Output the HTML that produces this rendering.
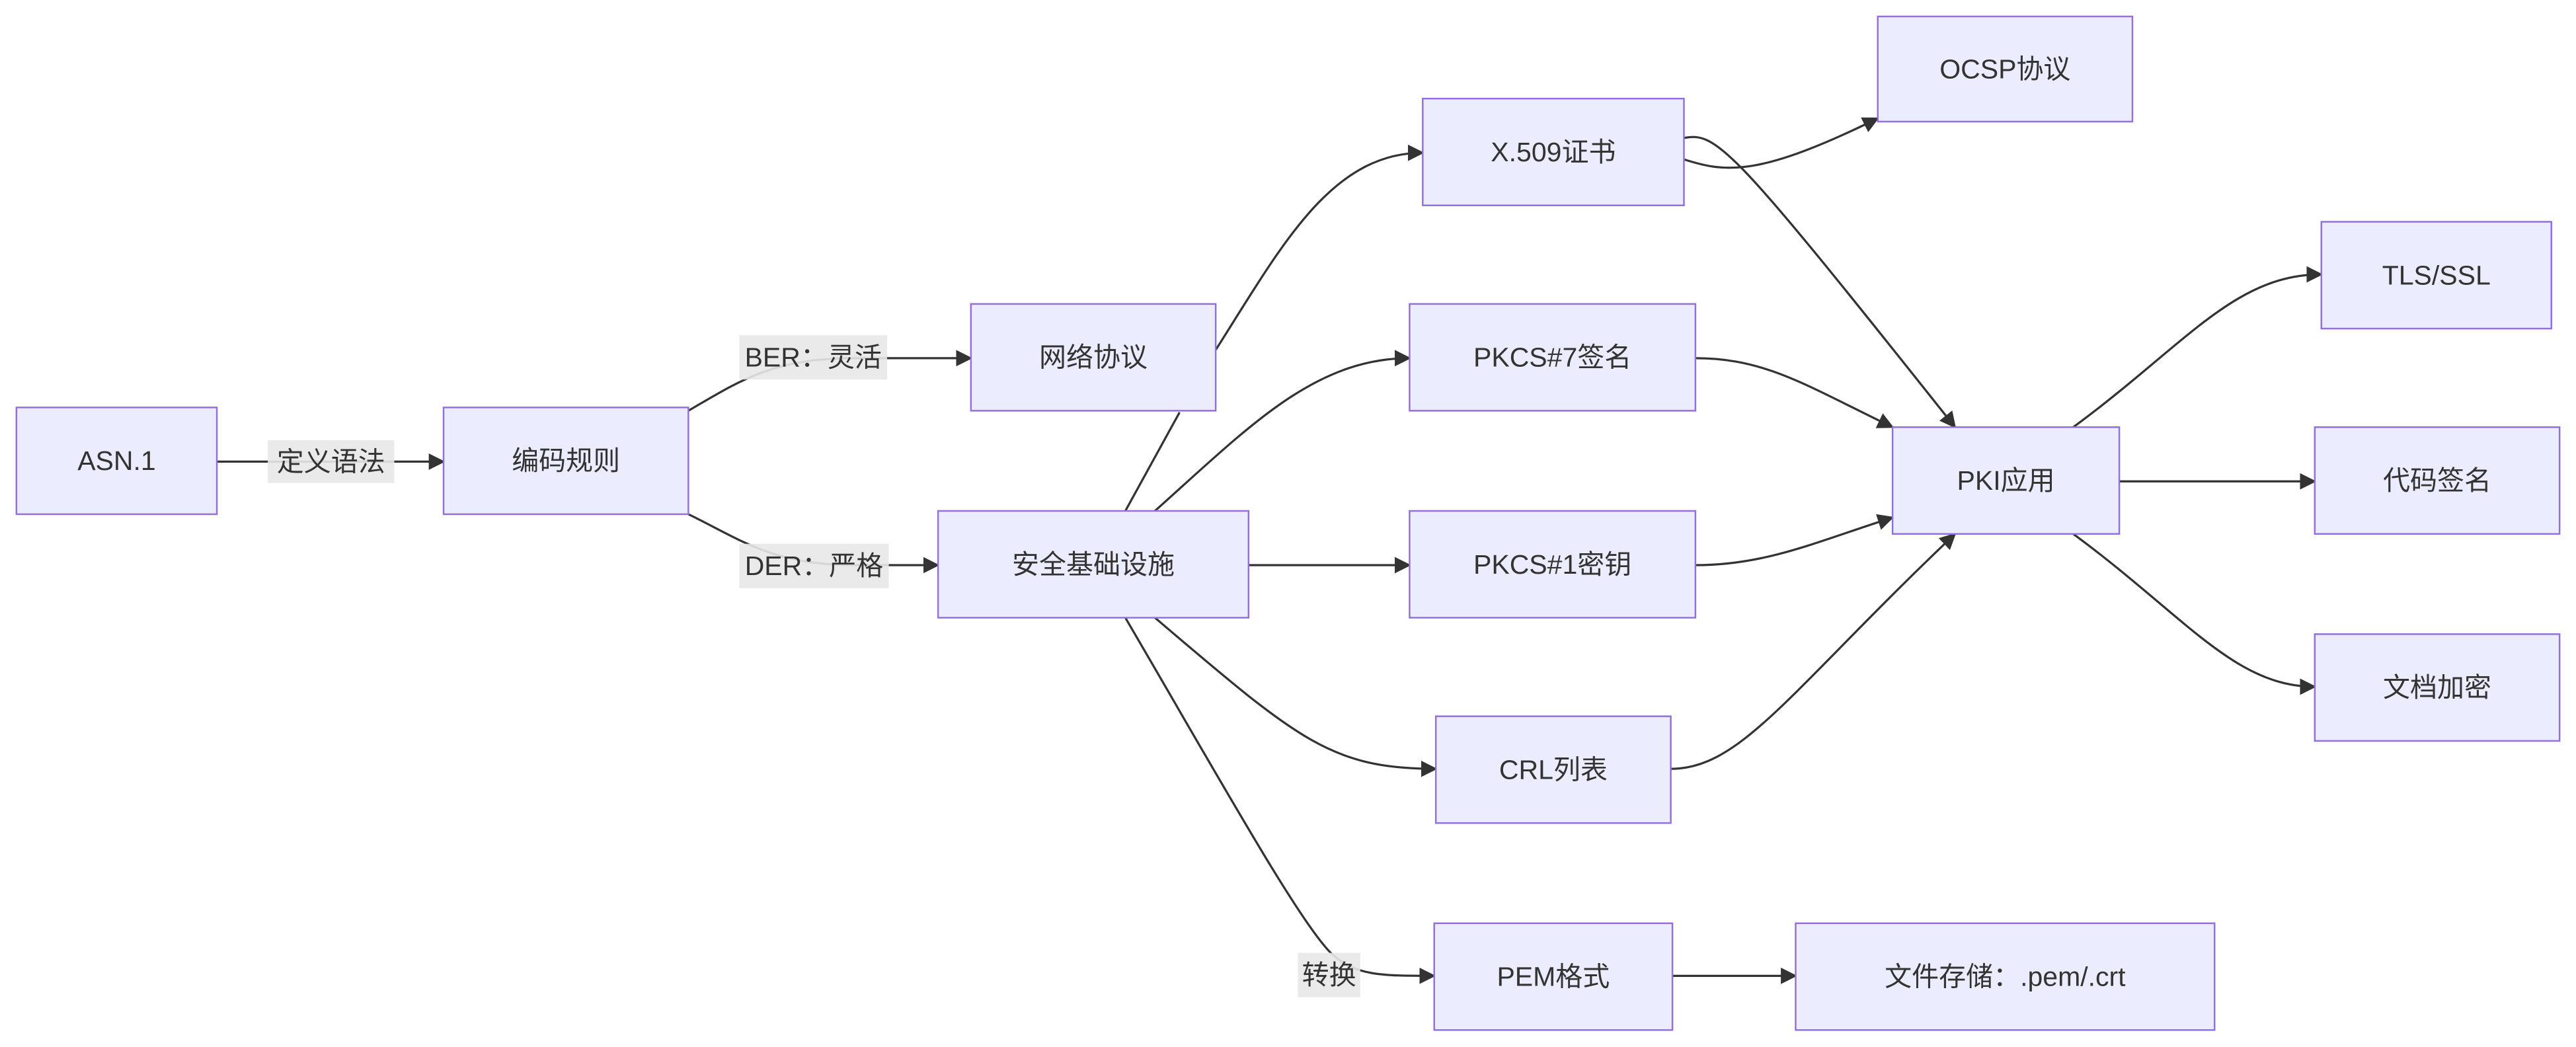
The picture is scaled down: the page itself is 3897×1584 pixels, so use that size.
<!DOCTYPE html>
<html><head><meta charset="utf-8"><style>
html,body{margin:0;padding:0;background:#fff;}
svg{display:block;}
text{font-family:"Liberation Sans","Noto Sans CJK SC",sans-serif;font-size:16.5px;fill:#333;text-anchor:middle;dominant-baseline:central;}
.n{fill:#ECECFF;stroke:#9370DB;stroke-width:1;}
.e{fill:none;stroke:#333;stroke-width:1.3;}
.lb{fill:#e8e8e8;opacity:0.9;}
</style></head><body>
<svg width="3897" height="1584" viewBox="0 0 1568 637.3">
<defs><marker id="a" viewBox="0 0 10 10" refX="9" refY="5" markerWidth="10" markerHeight="10" markerUnits="userSpaceOnUse" orient="auto"><path d="M0,0 L10,5 L0,10 z" fill="#333"/></marker></defs>
<g class="edges">
<path class="e" d="M132,281 L270,281" marker-end="url(#a)"/>
<path class="e" d="M419,250 C450,232 470,218 520,218 L591,218" marker-end="url(#a)"/>
<path class="e" d="M419,313 C450,328 470,344 520,344 L571,344" marker-end="url(#a)"/>
<path class="e" d="M740,213 C780,150 810,93 866,93" marker-end="url(#a)"/>
<path class="e" d="M685,311 L718,251"/>
<path class="e" d="M703,311 C760,260 800,218 858,218" marker-end="url(#a)"/>
<path class="e" d="M760,344 L858,344" marker-end="url(#a)"/>
<path class="e" d="M703,376 C790,450 810,468 874,468" marker-end="url(#a)"/>
<path class="e" d="M685,376 C740,470 790,560 810,580 C825,594 840,594 873,594" marker-end="url(#a)"/>
<path class="e" d="M1018,594 L1093,594" marker-end="url(#a)"/>
<path class="e" d="M1025,97 C1050,105 1070,108 1143,72" marker-end="url(#a)"/>
<path class="e" d="M1025,84 C1045,80 1055,90 1190,260" marker-end="url(#a)"/>
<path class="e" d="M1032,218 C1075,218 1100,235 1152,260" marker-end="url(#a)"/>
<path class="e" d="M1032,344 C1075,344 1105,330 1152,315" marker-end="url(#a)"/>
<path class="e" d="M1017,468 C1060,468 1090,420 1190,325" marker-end="url(#a)"/>
<path class="e" d="M1262,260 C1330,210 1360,167 1413,167" marker-end="url(#a)"/>
<path class="e" d="M1290,293 L1409,293" marker-end="url(#a)"/>
<path class="e" d="M1262,325 C1330,375 1360,418 1409,418" marker-end="url(#a)"/>
</g>
<g>
<rect class="lb" x="163" y="268" width="77" height="26"/><text x="201.5" y="281">定义语法</text>
<rect class="lb" x="450" y="204" width="90" height="27"/><text x="495" y="217.5">BER：灵活</text>
<rect class="lb" x="450" y="331" width="91" height="27"/><text x="495.5" y="344.5">DER：严格</text>
<rect class="lb" x="790" y="580" width="38" height="27"/><text x="809" y="593.5">转换</text>
</g>
<g>
<rect class="n" x="10" y="248" width="122" height="65"/><text x="71" y="280.5">ASN.1</text>
<rect class="n" x="270" y="248" width="149" height="65"/><text x="344.5" y="280.5">编码规则</text>
<rect class="n" x="591" y="185" width="149" height="65"/><text x="665.5" y="217.5">网络协议</text>
<rect class="n" x="571" y="311" width="189" height="65"/><text x="665.5" y="343.5">安全基础设施</text>
<rect class="n" x="866" y="60" width="159" height="65"/><text x="945.5" y="92.5">X.509证书</text>
<rect class="n" x="858" y="185" width="174" height="65"/><text x="945" y="217.5">PKCS#7签名</text>
<rect class="n" x="858" y="311" width="174" height="65"/><text x="945" y="343.5">PKCS#1密钥</text>
<rect class="n" x="874" y="436" width="143" height="65"/><text x="945.5" y="468.5">CRL列表</text>
<rect class="n" x="873" y="562" width="145" height="65"/><text x="945.5" y="594.5">PEM格式</text>
<rect class="n" x="1093" y="562" width="255" height="65"/><text x="1220.5" y="594.5">文件存储：.pem/.crt</text>
<rect class="n" x="1143" y="10" width="155" height="64"/><text x="1220.5" y="42">OCSP协议</text>
<rect class="n" x="1152" y="260" width="138" height="65"/><text x="1221" y="292.5">PKI应用</text>
<rect class="n" x="1413" y="135" width="140" height="65"/><text x="1483" y="167.5">TLS/SSL</text>
<rect class="n" x="1409" y="260" width="149" height="65"/><text x="1483.5" y="292.5">代码签名</text>
<rect class="n" x="1409" y="386" width="149" height="65"/><text x="1483.5" y="418.5">文档加密</text>
</g>
</svg>
</body></html>
